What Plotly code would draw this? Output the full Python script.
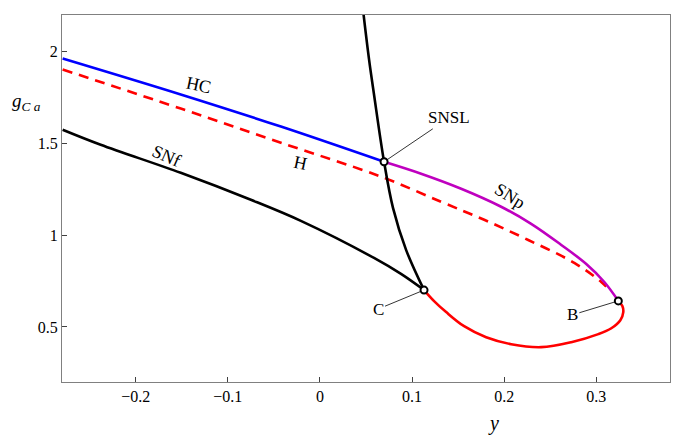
import plotly.graph_objects as go

# ---- data ----
hc_x = [-0.2793, -0.1511, -0.0424, 0.0696]
hc_y = [1.963, 1.767, 1.592, 1.400]

h_x = [-0.2793, -0.1511, -0.0424, 0.0663, 0.1315, 0.1783, 0.2261, 0.2761, 0.3054, 0.3141]
h_y = [1.903, 1.690, 1.504, 1.319, 1.182, 1.084, 0.974, 0.849, 0.745, 0.701]

snp_x = [0.0696, 0.1098, 0.1533, 0.1967, 0.2293, 0.2620, 0.2891, 0.3087, 0.3239]
snp_y = [1.400, 1.335, 1.253, 1.155, 1.062, 0.947, 0.843, 0.745, 0.642]

red_x = [0.1130, 0.1239, 0.1370, 0.1565, 0.1804, 0.2076, 0.2402, 0.2728, 0.3022, 0.3163, 0.3261, 0.3293, 0.3283, 0.3239]
red_y = [0.701, 0.641, 0.581, 0.504, 0.444, 0.406, 0.390, 0.417, 0.461, 0.493, 0.537, 0.581, 0.614, 0.642]

snf_x = [-0.2793, -0.2380, -0.1511, -0.0750, -0.0207, 0.0587, 0.0880, 0.1130]
snf_y = [1.575, 1.493, 1.340, 1.193, 1.078, 0.876, 0.789, 0.701]

snsl_x = [0.0467, 0.0533, 0.0587, 0.0696, 0.0793, 0.0935, 0.1130]
snsl_y = [2.231, 1.958, 1.767, 1.400, 1.149, 0.920, 0.701]

pt_names = ["SNSL", "C", "B"]
pt_x = [0.0696, 0.1130, 0.3239]
pt_y = [1.400, 0.701, 0.642]

x_ticks = [-0.2, -0.1, 0, 0.1, 0.2, 0.3]
x_ticktext = ["\u22120.2", "\u22120.1", "0", "0.1", "0.2", "0.3"]
y_ticks = [0.5, 1, 1.5, 2]
y_ticktext = ["0.5", "1", "1.5", "2"]

FONT = "Liberation Serif"
LW = 2.6

fig = go.Figure()
fig.add_trace(go.Scatter(x=h_x, y=h_y, mode="lines", line=dict(color="#ff0000", width=LW, dash="10px,7px", shape="spline"), hoverinfo="skip"))
fig.add_trace(go.Scatter(x=hc_x, y=hc_y, mode="lines", line=dict(color="#0000ff", width=LW, shape="spline"), hoverinfo="skip"))
fig.add_trace(go.Scatter(x=snp_x, y=snp_y, mode="lines", line=dict(color="#bf00bf", width=LW, shape="spline"), hoverinfo="skip"))
fig.add_trace(go.Scatter(x=red_x, y=red_y, mode="lines", line=dict(color="#ff0000", width=LW, shape="spline"), hoverinfo="skip"))
fig.add_trace(go.Scatter(x=snf_x, y=snf_y, mode="lines", line=dict(color="#000000", width=LW, shape="spline"), hoverinfo="skip"))
fig.add_trace(go.Scatter(x=snsl_x, y=snsl_y, mode="lines", line=dict(color="#000000", width=LW, shape="spline"), hoverinfo="skip"))
fig.add_trace(go.Scatter(x=pt_x, y=pt_y, mode="markers", marker=dict(symbol="circle", size=7, color="white", line=dict(color="black", width=2)), hoverinfo="skip"))

# curve labels
lab = dict(xref="x", yref="y", showarrow=False, font=dict(family=FONT, size=18, color="black"))
fig.add_annotation(x=-0.1315, y=1.816, text="HC", textangle=12, **lab)
fig.add_annotation(x=-0.0207, y=1.395, text="H", textangle=12, **lab)
fig.add_annotation(x=-0.1663, y=1.433, text="SNf", textangle=24, **lab)
fig.add_annotation(x=0.2065, y=1.215, text="SNp", textangle=32, **lab)

# point callouts
offs = {"SNSL": (65, -44), "C": (-46, 19), "B": (-46, 14)}
for n, px, py in zip(pt_names, pt_x, pt_y):
    ax, ay = offs[n]
    fig.add_annotation(x=px, y=py, xref="x", yref="y", text=n, showarrow=True,
                       arrowhead=0, arrowwidth=0.8, arrowcolor="black", standoff=4,
                       ax=ax, ay=ay, font=dict(family=FONT, size=17, color="black"))

# axis labels
fig.add_annotation(x=-0.0855, y=0.763, xref="paper", yref="paper", xanchor="left", yanchor="middle",
                   showarrow=False, text="<i>g</i><sub><i>C a</i></sub>",
                   font=dict(family=FONT, size=19, color="black"))
fig.add_annotation(x=0.188, y=-0.112, xref="x", yref="paper", xanchor="center", yanchor="middle",
                   showarrow=False, text="<i>y</i>", font=dict(family=FONT, size=20, color="black"))

axis_common = dict(showline=True, mirror=True, linecolor="#808080", linewidth=1.2,
                   ticks="inside", ticklen=5, tickcolor="#404040", tickwidth=1,
                   showgrid=False, zeroline=False,
                   tickfont=dict(family=FONT, size=16, color="black"))

fig.update_layout(
    width=685, height=437,
    margin=dict(l=62, r=15, t=15, b=55),
    paper_bgcolor="white", plot_bgcolor="white",
    showlegend=False,
    font=dict(family=FONT),
    xaxis=dict(range=[-0.28, 0.38], tickvals=x_ticks, ticktext=x_ticktext, **axis_common),
    yaxis=dict(range=[0.2, 2.2], tickvals=y_ticks, ticktext=y_ticktext, **axis_common),
)

fig.write_html("out.html", config={"displayModeBar": False},
               post_script="document.body.style.margin='0';document.body.style.overflow='hidden';")
